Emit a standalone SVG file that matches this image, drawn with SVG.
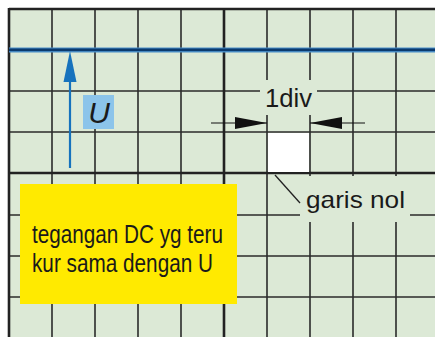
<svg xmlns="http://www.w3.org/2000/svg" width="435" height="337" viewBox="0 0 435 337">
<defs>
<style>
.g{stroke:#2b2b2b;stroke-width:1.6;fill:none}
.gt{stroke:#222;stroke-width:2.6;fill:none}
.bg{fill:#dce9d6}
.lbl{font-family:"Liberation Sans",Arial,sans-serif;fill:#1a1a1a}
</style>
<marker id="ah" markerWidth="32" markerHeight="12" viewBox="0 0 32 12" refX="32" refY="6" markerUnits="userSpaceOnUse" orient="auto">
<path d="M0,0 L32,6 L0,12 Z" fill="#111"/>
</marker>
</defs>
<rect width="435" height="337" fill="#fff"/>
<g id="grid">
<rect class="bg" x="9" y="9" width="426" height="328"/>
<g class="g">
<path d="M52,9V337M95,9V337M138,9V337M181,9V337M267,9V337M310,9V337M353,9V337M396,9V337"/>
<path d="M9,91H435M9,132H435M9,215H435M9,256H435M9,297H435"/>
</g>
<g class="gt">
<path d="M9,9H435M9,8V337M224,9V337M9,173H435"/>
</g>
</g>
<g id="zero-line">
<rect x="9" y="47.5" width="426" height="5" fill="#4a8fc9"/>
<rect x="9" y="48.5" width="426" height="2.6" fill="#0b3a6e"/>
</g>
<g id="masks">
<rect class="bg" x="260" y="80" width="57" height="35"/>
<rect class="bg" x="300" y="176" width="110" height="46"/>
</g>
<g id="zero-marker">
<rect x="268" y="133" width="41" height="39" fill="#fff"/>
</g>
<g id="u-label">
<rect x="83" y="95" width="31" height="34" fill="#8cc4ea"/>
<text class="lbl" x="99" y="123" font-size="30" font-style="italic" text-anchor="middle" fill="#222">U</text>
</g>
<g id="div-label">
<text class="lbl" x="265" y="107" font-size="26" textLength="47" lengthAdjust="spacingAndGlyphs" fill="#2a2a2a">1div</text>
</g>
<g id="garis-label">
<text class="lbl" x="306" y="208" font-size="24" textLength="99" lengthAdjust="spacingAndGlyphs">garis nol</text>
</g>
<g id="note">
<rect x="20" y="184" width="217" height="120" fill="#ffea00"/>
<text class="lbl" x="32" y="243" font-size="25" textLength="191" lengthAdjust="spacingAndGlyphs">tegangan DC yg teru</text>
<text class="lbl" x="32" y="272" font-size="25" textLength="181" lengthAdjust="spacingAndGlyphs">kur sama dengan U</text>
</g>
<g id="connectors">
<line x1="70" y1="168" x2="70" y2="80" stroke="#1672bd" stroke-width="2.2"/>
<path d="M70,51 L76.5,82 L63.5,82 Z" fill="#1672bd"/>
<line x1="211" y1="123" x2="267" y2="123" stroke="#111" stroke-width="1.2" marker-end="url(#ah)"/>
<line x1="365" y1="123" x2="310" y2="123" stroke="#111" stroke-width="1.2" marker-end="url(#ah)"/>
<line x1="275" y1="175" x2="300" y2="203" stroke="#222" stroke-width="1.3"/>
</g>
</svg>
